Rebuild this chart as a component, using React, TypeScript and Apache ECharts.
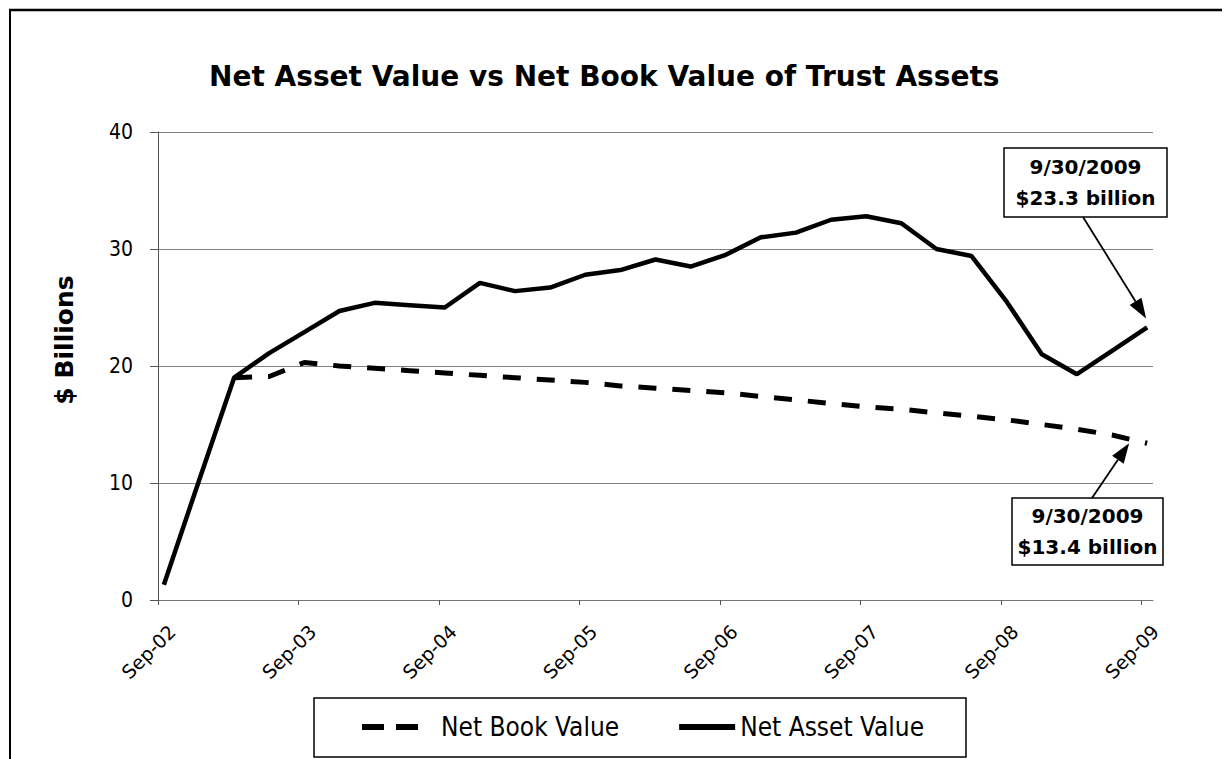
import React, { useEffect, useRef } from "react";
import * as echarts from "echarts";

// Quarter-end months (year, month) for each data point
const quarterMonths: string[] = [
  "2002-09", "2002-12", "2003-03", "2003-06", "2003-09", "2003-12", "2004-03", "2004-06",
  "2004-09", "2004-12", "2005-03", "2005-06", "2005-09", "2005-12", "2006-03", "2006-06",
  "2006-09", "2006-12", "2007-03", "2007-06", "2007-09", "2007-12", "2008-03", "2008-06",
  "2008-09", "2008-12", "2009-03", "2009-06", "2009-09",
];

const netAssetValue: number[] = [
  1.3, 10.2, 19.0, 21.1, 22.9, 24.7, 25.4, 25.2, 25.0, 27.1, 26.4, 26.7, 27.8, 28.2, 29.1,
  28.5, 29.5, 31.0, 31.4, 32.5, 32.8, 32.2, 30.0, 29.4, 25.5, 21.0, 19.3, 21.3, 23.3,
];

const netBookValue: (number | null)[] = [
  null, null, 19.0, 19.1, 20.3, 20.0, 19.8, 19.6, 19.4, 19.2, 19.0, 18.8, 18.6, 18.3, 18.1,
  17.9, 17.7, 17.4, 17.1, 16.8, 16.5, 16.3, 16.0, 15.7, 15.4, 15.0, 14.6, 14.1, 13.4,
];

const yTicks: number[] = [0, 10, 20, 30, 40];
const xTickLabels: string[] = ["Sep-02", "Sep-03", "Sep-04", "Sep-05", "Sep-06", "Sep-07", "Sep-08", "Sep-09"];

const titleText = "Net Asset Value vs Net Book Value of Trust Assets";
const yAxisTitle = "$ Billions";
const navNote = ["9/30/2009", "$23.3 billion"];
const nbvNote = ["9/30/2009", "$13.4 billion"];

// months since Sep 2002, point centred in its month slot
function monthPos(s: string): number {
  const [y, m] = s.split("-").map(Number);
  return (y - 2002) * 12 + (m - 9) + 0.5;
}

const FONT = "'DejaVu Sans Condensed', 'DejaVu Sans', sans-serif";
const FONT_W = "'DejaVu Sans', sans-serif";

function arrow(from: number[], to: number[]) {
  const dx = to[0] - from[0];
  const dy = to[1] - from[1];
  const len = Math.sqrt(dx * dx + dy * dy);
  const ux = dx / len, uy = dy / len;
  const hl = 20, hw = 7;
  const bx = to[0] - ux * hl, by = to[1] - uy * hl;
  return [
    {
      type: "line",
      shape: { x1: from[0], y1: from[1], x2: bx, y2: by },
      style: { stroke: "#000", lineWidth: 1.8 },
      silent: true,
    },
    {
      type: "polygon",
      shape: {
        points: [
          [to[0], to[1]],
          [bx - uy * hw, by + ux * hw],
          [bx + uy * hw, by - ux * hw],
        ],
      },
      style: { fill: "#000" },
      silent: true,
    },
  ];
}

export default function App() {
  const ref = useRef<HTMLDivElement>(null);

  useEffect(() => {
    if (!ref.current) return;
    const chart = echarts.init(ref.current, undefined, { renderer: "svg" });
    const navData = quarterMonths.map((q, i) => [monthPos(q), netAssetValue[i]]);
    const nbvData = quarterMonths.map((q, i) => [monthPos(q), netBookValue[i]]);

    chart.setOption({
      animation: false,
      backgroundColor: "#fff",
      title: {
        text: titleText,
        left: 204,
        top: 57,
        textStyle: { fontFamily: FONT_W, fontWeight: "bold", fontSize: 28, color: "#000" },
      },
      grid: { left: 158, right: 72, top: 132, bottom: 159, containLabel: false },
      xAxis: {
        type: "value",
        min: 0,
        max: 85,
        interval: 12,
        axisLine: { show: true, lineStyle: { color: "#777", width: 1 } },
        axisTick: { show: true, length: 5, lineStyle: { color: "#555" } },
        splitLine: { show: false },
        axisLabel: {
          rotate: 45,
          margin: 14,
          verticalAlign: "top",
          lineHeight: 40,
          fontFamily: FONT_W,
          fontSize: 19,
          color: "#000",
          formatter: (v: number) => xTickLabels[Math.round(v / 12)] ?? "",
        },
      },
      yAxis: {
        type: "value",
        min: yTicks[0],
        max: yTicks[yTicks.length - 1],
        interval: 10,
        axisLine: { show: true, lineStyle: { color: "#555", width: 1 } },
        axisTick: { show: true, length: 8, lineStyle: { color: "#555" } },
        splitLine: { show: true, lineStyle: { color: "#808080", width: 1 } },
        axisLabel: { margin: 25, fontFamily: FONT, fontSize: 21, color: "#000" },
      },
      legend: {
        left: 362,
        top: 714,
        padding: 0,
        itemGap: 60,
        itemWidth: 56,
        itemHeight: 6,
        textStyle: { fontFamily: FONT, fontSize: 26, color: "#000" },
        data: [
          {
            name: "Net Book Value",
            icon: "path://M0,0h22v6h-22z M34,0h22v6h-22z",
            textStyle: { padding: [0, 0, 0, 18] },
          },
          { name: "Net Asset Value", icon: "path://M0,0h56v6h-56z" },
        ],
      },
      series: [
        {
          name: "Net Book Value",
          type: "line",
          data: nbvData,
          showSymbol: false,
          symbol: "none",
          lineStyle: { color: "#000", width: 5, type: [18, 16] },
          itemStyle: { color: "#000" },
        },
        {
          name: "Net Asset Value",
          type: "line",
          data: navData,
          showSymbol: false,
          symbol: "none",
          lineStyle: { color: "#000", width: 4.5 },
          itemStyle: { color: "#000" },
        },
      ],
    });

    const last = quarterMonths.length - 1;
    const p1 = chart.convertToPixel({ gridIndex: 0 }, [monthPos(quarterMonths[last]), netAssetValue[last]]) as number[];
    const p2 = chart.convertToPixel({ gridIndex: 0 }, [monthPos(quarterMonths[last]), netBookValue[last] as number]) as number[];

    const box = (x: number, y: number, w: number, h: number, lines: string[]) => [
      {
        type: "rect",
        shape: { x, y, width: w, height: h },
        style: { fill: "#fff", stroke: "#000", lineWidth: 1.5 },
        silent: true,
      },
      {
        type: "text",
        x: x + w / 2,
        y: y + h / 2,
        style: {
          text: lines.join("\n"),
          fontFamily: FONT_W,
          fontWeight: "bold",
          fontSize: 20,
          lineHeight: 31,
          fill: "#000",
          align: "center",
          verticalAlign: "middle",
        },
        silent: true,
      },
    ];

    chart.setOption({
      graphic: [
        { type: "line", shape: { x1: 9, y1: 10, x2: 1222, y2: 10 }, style: { stroke: "#000", lineWidth: 2.5 }, silent: true },
        { type: "line", shape: { x1: 10, y1: 10, x2: 10, y2: 759 }, style: { stroke: "#000", lineWidth: 2 }, silent: true },
        {
          type: "rect",
          shape: { x: 314, y: 698, width: 652, height: 59 },
          style: { fill: "none", stroke: "#000", lineWidth: 1.5 },
          silent: true,
        },
        {
          type: "text",
          x: 64,
          y: 340,
          rotation: Math.PI / 2,
          style: {
            text: yAxisTitle,
            fontFamily: FONT_W,
            fontWeight: "bold",
            fontSize: 25,
            fill: "#000",
            align: "center",
            verticalAlign: "middle",
          },
          silent: true,
        },
        ...box(1004, 148, 163, 69, navNote),
        ...box(1012, 498, 151, 67, nbvNote),
        ...arrow([1083, 217], [p1[0] - 1, p1[1] - 9]),
        ...arrow([1092, 498], [p2[0] - 18, p2[1]]),
      ],
    });

    return () => chart.dispose();
  }, []);

  return <div ref={ref} style={{ position: "fixed", left: 0, top: 0, width: 1225, height: 759 }} />;
}
